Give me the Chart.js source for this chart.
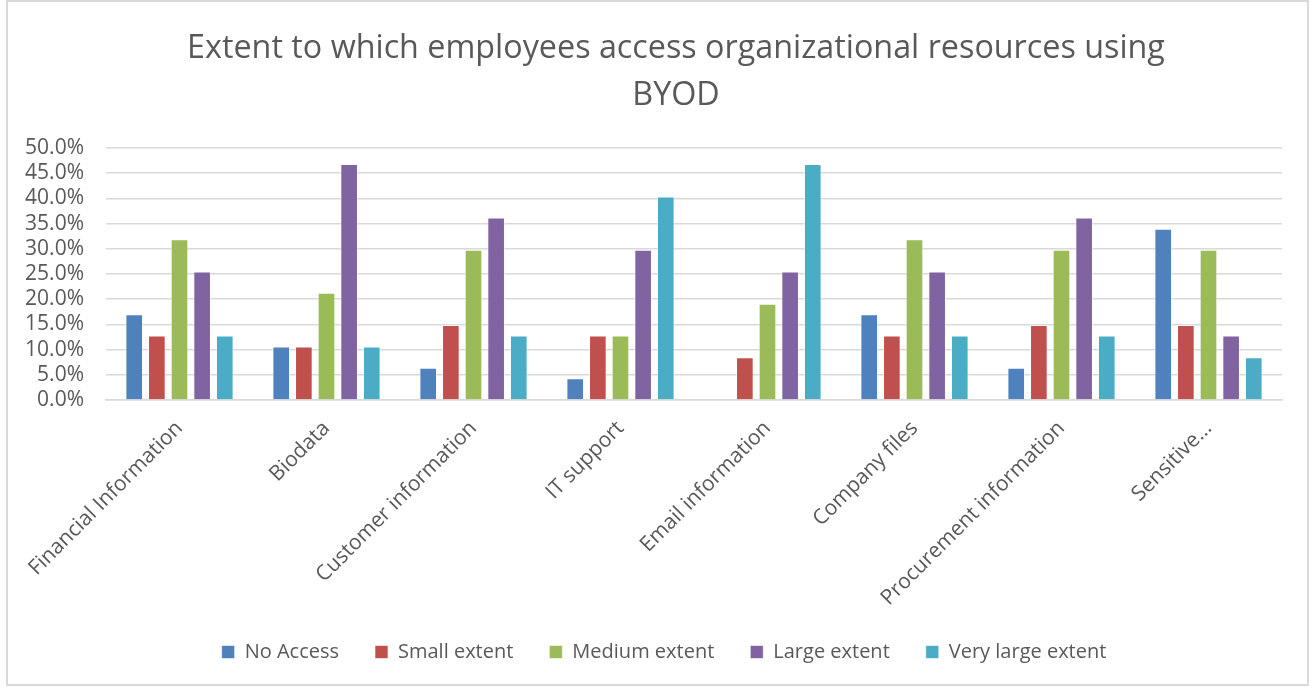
<!DOCTYPE html>
<html>
<head>
<meta charset="utf-8">
<title>BYOD access</title>
<script src="https://cdn.jsdelivr.net/npm/chart.js@4.4.1/dist/chart.umd.min.js"></script>
<style>
  html, body { margin: 0; padding: 0; background: #fff; }
  #frame {
    position: absolute; left: 6px; top: 0;
    width: 1303px; height: 686px;
    border: 2px solid #d9d9d9; box-sizing: border-box;
  }
</style>
</head>
<body>
<div id="frame"><canvas id="barChart"></canvas></div>
<script>
const categorias = [
  "Financial Information", "Biodata", "Customer information", "IT support",
  "Email information", "Company files", "Procurement information", "Sensitive..."
];
const noAccess      = [17.0, 10.6,  6.4,  4.3,  0.0, 17.0,  6.4, 34.0];
const smallExtent   = [12.8, 10.6, 14.9, 12.8,  8.5, 12.8, 14.9, 14.9];
const mediumExtent  = [31.9, 21.3, 29.8, 12.8, 19.1, 31.9, 29.8, 29.8];
const largeExtent   = [25.5, 46.8, 36.2, 29.8, 25.5, 25.5, 36.2, 12.8];
const veryLarge     = [12.8, 10.6, 12.8, 40.4, 46.8, 12.8, 12.8,  8.5];
const serieNombres  = ["No Access", "Small extent", "Medium extent", "Large extent", "Very large extent"];
const colores       = ["#4f81bd", "#c0504d", "#9bbb59", "#8064a2", "#4bacc6"];

const gris = "#595959";
const fuente = "'Open Sans', sans-serif";

const series = [noAccess, smallExtent, mediumExtent, largeExtent, veryLarge];

// título y leyenda van algo a la derecha del centro del lienzo
const desplazar = {
  id: "desplazar",
  afterLayout(chart) {
    chart.titleBlock.left += 31;
    chart.titleBlock.right += 31;
    chart.legend.left += 19;
    chart.legend.right += 19;
  }
};

new Chart(document.getElementById("barChart"), {
  type: "bar",
  data: {
    labels: categorias,
    datasets: series.map((valores, i) => ({
      label: serieNombres[i],
      data: valores,
      backgroundColor: colores[i],
      borderColor: "rgba(255,255,255,0.6)",
      borderWidth: 1,
      categoryPercentage: 0.77,
      barPercentage: 0.78
    }))
  },
  plugins: [desplazar],
  options: {
    responsive: true,
    maintainAspectRatio: false,
    animation: false,
    layout: { padding: { left: 0, right: 25, top: 0, bottom: 12 } },
    plugins: {
      title: {
        display: true,
        text: ["Extent to which employees access organizational resources using", "BYOD"],
        color: gris,
        font: { family: fuente, size: 32.3, weight: "normal", lineHeight: 1.455 },
        padding: { top: 23, bottom: 29 }
      },
      legend: {
        position: "bottom",
        labels: {
          color: gris,
          font: { family: fuente, size: 20 },
          boxWidth: 13,
          boxHeight: 13,
          padding: 36
        }
      },
      tooltip: { enabled: false }
    },
    scales: {
      x: {
        grid: { display: false },
        border: { color: "#d9d9d9", width: 1.5 },
        ticks: {
          color: gris,
          font: { family: fuente, size: 21 },
          minRotation: 45,
          maxRotation: 45,
          autoSkip: false,
          padding: 8
        },
        afterFit: scale => { scale.height = 206; }
      },
      y: {
        min: 0,
        max: 50,
        border: { display: false },
        grid: { color: "#d9d9d9", lineWidth: 1.5, drawTicks: false },
        ticks: {
          stepSize: 5,
          autoSkip: false,
          color: gris,
          font: { family: fuente, size: 21 },
          padding: 22,
          callback: v => v.toFixed(1) + "%"
        },
        afterFit: scale => { scale.width = 98; }
      }
    }
  }
});
</script>
</body>
</html>
